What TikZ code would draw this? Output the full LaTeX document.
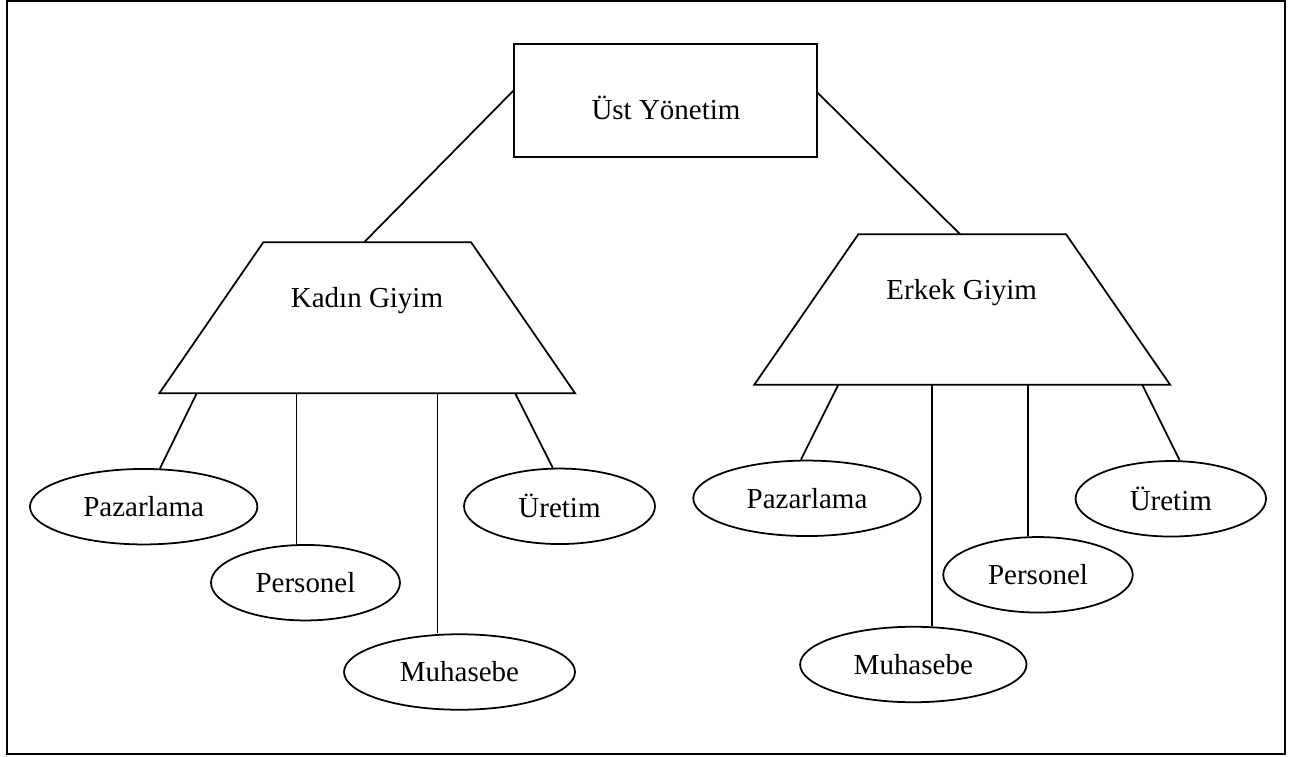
\documentclass[tikz,border=0pt]{standalone}
\usepackage{fontspec}
\setmainfont{Liberation Serif}
\usetikzlibrary{shapes.geometric,calc}

\tikzset{
  cizgi/.style={line width=1pt},
  birim/.style={ellipse, draw, cizgi, inner sep=0pt, minimum height=1.51cm},
}

\begin{document}
\begin{tikzpicture}[x=0.02cm, y=-0.02cm, font=\fontsize{16.5}{20}\selectfont]
  \useasboundingbox (0,0) rectangle (1289,757);
  \draw[line width=1.4pt] (7,1) rectangle (1285,754);

  % ust yonetim
  \node[draw, cizgi, outer sep=0pt, minimum width=6.06cm, minimum height=2.254cm] (ust) at (665.8,100.3) {};
  \node[anchor=base] (ustyazi) at (666,120) {Üst Yönetim};

  % bolumler (yamuklar)
  \path (367.2,317.8) coordinate (kadin)
    +(-103.9,-75.5) coordinate (kadinsolust) +(103.9,-75.5) coordinate (kadinsagust)
    +(207.9,75.5) coordinate (kadinsagalt) +(-207.9,75.5) coordinate (kadinsolalt);
  \draw[cizgi] (kadinsolust) -- (kadinsagust) -- (kadinsagalt) -- (kadinsolalt) -- cycle;
  \node[anchor=base] (kadinyazi) at (367,307) {Kadın Giyim};

  \path (962.2,309.5) coordinate (erkek)
    +(-103.9,-75.2) coordinate (erkeksolust) +(103.9,-75.2) coordinate (erkeksagust)
    +(207.9,75.2) coordinate (erkeksagalt) +(-207.9,75.2) coordinate (erkeksolalt);
  \draw[cizgi] (erkeksolust) -- (erkeksagust) -- (erkeksagalt) -- (erkeksolalt) -- cycle;
  \node[anchor=base] (erkekyazi) at (961.7,299) {Erkek Giyim};

  % birimler
  \node[birim, minimum width=4.55cm] (kpaz) at (143.7,506.7) {Pazarlama};
  \node[birim, minimum width=3.78cm] (kper) at (305.5,582.7) {Personel};
  \node[birim, minimum width=4.62cm] (kmuh) at (459.5,672) {Muhasebe};
  \node[birim, minimum width=3.82cm] (kure) at (559.5,506.3) {Üretim};

  \node[birim, minimum width=4.55cm] (epaz) at (807,498.3) {Pazarlama};
  \node[birim, minimum width=4.53cm] (emuh) at (913.3,664.5) {Muhasebe};
  \node[birim, minimum width=3.79cm] (eper) at (1038,574.8) {Personel};
  \node[birim, minimum width=3.81cm] (eure) at (1170.8,498.8) {Üretim};

  % baglantilar
  \coordinate (kust) at ($(kadinsolust)!0.485!(kadinsagust)$);
  \coordinate (eust) at ($(erkeksolust)!0.49!(erkeksagust)$);
  \draw[cizgi] (ust.176.8) -- (kust);
  \draw[cizgi] (ust.3.5) -- (eust);

  \coordinate (k1) at ($(kadinsolalt)!0.09!(kadinsagalt)$);
  \coordinate (k2) at ($(kadinsolalt)!0.33!(kadinsagalt)$);
  \coordinate (k3) at ($(kadinsolalt)!0.669!(kadinsagalt)$);
  \coordinate (k4) at ($(kadinsolalt)!0.856!(kadinsagalt)$);
  \draw[cizgi] (k1) -- (kpaz.67.5);
  \draw[cizgi] (k2) -- (k2 |- kper.north);
  \draw[cizgi] (k3) -- (k3 |- kmuh.north);
  \draw[cizgi] (k4) -- (kure.100);

  \coordinate (e1) at ($(erkeksolalt)!0.202!(erkeksagalt)$);
  \coordinate (e2) at ($(erkeksolalt)!0.4275!(erkeksagalt)$);
  \coordinate (e3) at ($(erkeksolalt)!0.659!(erkeksagalt)$);
  \coordinate (e4) at ($(erkeksolalt)!0.933!(erkeksagalt)$);
  \draw[cizgi] (e1) -- (epaz.99);
  \draw[cizgi] (e2) -- (e2 |- emuh.north);
  \draw[cizgi] (e3) -- (e3 |- eper.north);
  \draw[cizgi] (e4) -- (eure.77);
\end{tikzpicture}
\end{document}
